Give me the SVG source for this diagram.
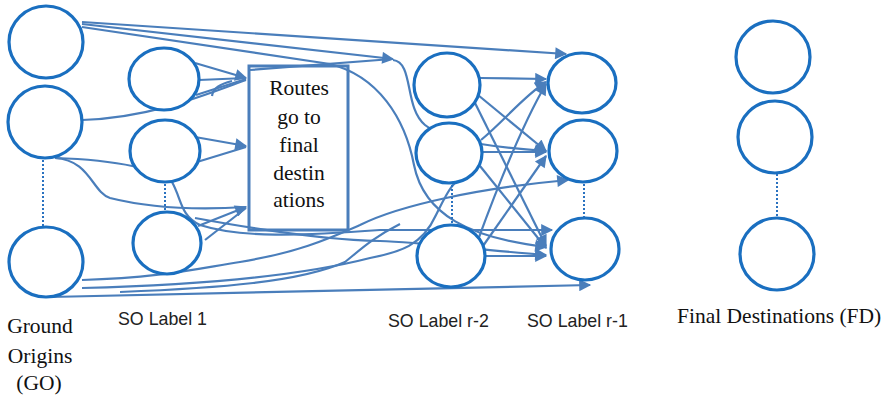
<svg xmlns="http://www.w3.org/2000/svg" width="886" height="398" viewBox="0 0 886 398">
<style>
.node{fill:#fff;stroke:#1a6fc0;stroke-width:3.2}
.dot{stroke:#2a72c0;stroke-width:2;stroke-dasharray:2 2;fill:none}
.c{fill:none;stroke:#4a7ebb;stroke-width:2.2}
.a{marker-end:url(#ah)}
.box{fill:#fff;stroke:#4a7ebb;stroke-width:3}
.serif{font-family:"Liberation Serif","Times New Roman",serif;font-size:21.5px;fill:#111}
.sans{font-family:"Liberation Sans",Arial,sans-serif;font-size:17.8px;fill:#222}
</style>
<defs>
<marker id="ah" viewBox="0 0 10 10" refX="9" refY="5" markerWidth="15" markerHeight="12" markerUnits="userSpaceOnUse" orient="auto"><path d="M0,0 L10,5 L0,10 z" fill="#4a7ebb"/></marker>
</defs>
<rect width="886" height="398" fill="#fff"/>

<g id="box">
<rect class="box" x="249" y="66" width="99" height="164"/>
<text class="serif" text-anchor="middle" x="299" y="95">Routes</text>
<text class="serif" text-anchor="middle" x="299" y="124">go to</text>
<text class="serif" text-anchor="middle" x="299" y="152">final</text>
<text class="serif" text-anchor="middle" x="299" y="180">destin</text>
<text class="serif" text-anchor="middle" x="299" y="207">ations</text>
</g>

<g id="connectors">
<path class="c a" d="M82,22 L566,54"/>
<path class="c a" d="M82,24 L393,59"/>
<path class="c" d="M250,70 L392,59"/>
<path class="c a" d="M393,60 C414,62 404,108 425,125 C445,142 500,148 546,151"/>
<path class="c a" d="M82,27 L330,64 C378,76 405,118 414,165 C424,215 470,238 546,247"/>
<path class="c a" d="M195,63 L246,78"/>
<path class="c" d="M199,80 L246,78"/>
<path class="c" d="M196,95 L246,79"/>
<path class="c" d="M82,120 C150,118 205,95 246,80"/>
<path class="c" d="M212,96 C213,88 220,84 232,81"/>
<path class="c a" d="M195,137 L246,146"/>
<path class="c" d="M197,162 L246,147"/>
<path class="c a" d="M198,226 L246,207"/>
<path class="c" d="M205,240 L246,208"/>
<path class="c" d="M55,158 C90,160 92,192 110,198 C150,208 200,210 246,207"/>
<path class="c a" d="M55,158 C120,160 160,170 172,182 C182,200 180,215 200,225 C240,238 300,236 380,230 L552,230"/>
<path class="c a" d="M195,218 C260,230 330,240 380,241 C420,242 480,250 546,255"/>
<path class="c a" d="M50,297 L590,285"/>
<path class="c a" d="M82,280 C160,278 200,268 240,262 C300,252 330,238 360,225 C400,205 480,188 568,180"/>
<path class="c" d="M82,288 C200,285 300,276 370,258 C400,252 422,246 436,215 C446,195 452,180 470,172"/>
<path class="c" d="M120,292 C220,288 300,282 345,262 C360,250 372,238 400,224"/>
<path class="c a" d="M480,78 L546,79"/>
<path class="c a" d="M478,95 L546,151"/>
<path class="c a" d="M475,103 L546,246"/>
<path class="c a" d="M481,140 C505,120 525,95 546,82"/>
<path class="c a" d="M482,152 L546,152"/>
<path class="c a" d="M480,166 L546,248"/>
<path class="c a" d="M478,240 C500,180 525,120 546,84"/>
<path class="c a" d="M483,246 L546,156"/>
<path class="c a" d="M485,256 L546,256"/>
</g>

<g id="go1"><ellipse class="node" cx="46" cy="42" rx="37" ry="36"/></g>
<g id="go2"><ellipse class="node" cx="45" cy="122" rx="37" ry="36"/></g>
<g id="go3"><ellipse class="node" cx="46" cy="262" rx="37" ry="35"/></g>
<g id="so1a"><ellipse class="node" cx="164" cy="79" rx="35" ry="31"/></g>
<g id="so1b"><ellipse class="node" cx="165" cy="151" rx="35" ry="31"/></g>
<g id="so1c"><ellipse class="node" cx="167" cy="243" rx="34" ry="31"/></g>
<g id="r2a"><ellipse class="node" cx="447" cy="85" rx="33" ry="32"/></g>
<g id="r2b"><ellipse class="node" cx="449" cy="153" rx="33" ry="30"/></g>
<g id="r2c"><ellipse class="node" cx="451" cy="256" rx="34" ry="31"/></g>
<g id="r1a"><ellipse class="node" cx="582" cy="83" rx="34" ry="30"/></g>
<g id="r1b"><ellipse class="node" cx="583" cy="151" rx="34" ry="31"/></g>
<g id="r1c"><ellipse class="node" cx="585" cy="249" rx="34" ry="31"/></g>
<g id="fd1"><ellipse class="node" cx="773" cy="57" rx="37" ry="36"/></g>
<g id="fd2"><ellipse class="node" cx="775" cy="137" rx="37" ry="36"/></g>
<g id="fd3"><ellipse class="node" cx="777" cy="254" rx="37" ry="36"/></g>

<g id="dots">
<line class="dot" x1="43" y1="160" x2="43" y2="226"/>
<line class="dot" x1="165" y1="184" x2="165" y2="211"/>
<line class="dot" x1="452" y1="185" x2="452" y2="224"/>
<line class="dot" x1="584" y1="184" x2="584" y2="217"/>
<line class="dot" x1="777" y1="174" x2="777" y2="217"/>
</g>

<g id="labels">
<text class="serif" text-anchor="middle" x="40" y="333">Ground</text>
<text class="serif" text-anchor="middle" x="40" y="363">Origins</text>
<text class="serif" text-anchor="middle" x="39" y="390">(GO)</text>
<text class="sans" x="118" y="325">SO Label 1</text>
<text class="sans" x="388" y="327">SO Label r-2</text>
<text class="sans" x="527" y="327">SO Label r-1</text>
<text class="serif" x="677" y="323">Final Destinations (FD)</text>
</g>
</svg>
